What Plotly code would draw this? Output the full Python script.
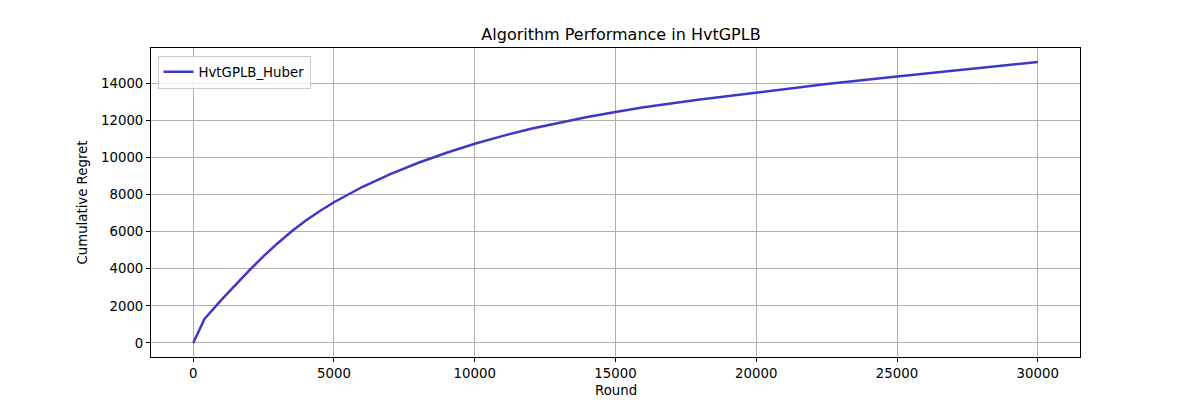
import plotly.graph_objects as go

rounds = [0, 400, 1000, 1500, 2000, 2500, 3000, 3500, 4000, 4500, 5000, 6000, 7000, 8000,
          9000, 10000, 11000, 12000, 13000, 14000, 15000, 16000, 18000, 20000, 22500, 25000,
          27500, 30000]
regret = [0, 1300, 2320, 3140, 3930, 4680, 5380, 6020, 6600, 7120, 7590, 8410, 9110, 9720,
          10260, 10740, 11170, 11550, 11890, 12190, 12460, 12710, 13130, 13510, 13960, 14370,
          14765, 15150]
series_name = "HvtGPLB_Huber"
x_ticks = [0, 5000, 10000, 15000, 20000, 25000, 30000]
y_ticks = [0, 2000, 4000, 6000, 8000, 10000, 12000, 14000]

xmin, xmax = min(rounds), max(rounds)
ymin, ymax = min(regret), max(regret)
xpad = 0.05 * (xmax - xmin)
ypad = 0.05 * (ymax - ymin)

fig = go.Figure()
fig.add_trace(go.Scatter(x=rounds, y=regret, mode="lines", name=series_name,
                         line=dict(color="rgb(62,56,200)", width=2.5)))

font = "DejaVu Sans, sans-serif"
axis_common = dict(showline=True, linecolor="black", linewidth=1, mirror=True,
                   ticks="outside", ticklen=4, tickcolor="black", tickwidth=1,
                   showgrid=True, gridcolor="#b0b0b0", gridwidth=1, zeroline=False,
                   automargin=False,
                   tickfont=dict(family=font, size=13.3, color="black"))

fig.update_layout(
    width=1200, height=400,
    margin=dict(l=151, r=120, t=48, b=43),
    paper_bgcolor="white", plot_bgcolor="white",
    title=dict(text="Algorithm Performance in HvtGPLB", x=0.5175, xanchor="center",
               y=1 - 34/400, yanchor="middle",
               font=dict(family=font, size=16, color="black")),
    xaxis=dict(range=[xmin - xpad, xmax + xpad], tickvals=x_ticks,
               ticktext=[str(v) for v in x_ticks], **axis_common),
    yaxis=dict(range=[ymin - ypad, ymax + ypad], tickvals=y_ticks,
               ticktext=[str(v) for v in y_ticks], **axis_common),
    showlegend=True,
    legend=dict(x=0.007, y=0.975, xanchor="left", yanchor="top",
                bgcolor="rgba(255,255,255,0.8)", bordercolor="#cccccc", borderwidth=1,
                font=dict(family=font, size=13.3, color="black"), itemwidth=30),
    annotations=[
        dict(text="Round", xref="paper", yref="paper", x=0.5, y=-(390-357)/309,
             xanchor="center", yanchor="middle", showarrow=False,
             font=dict(family=font, size=13.3, color="black")),
        dict(text="Cumulative Regret", xref="paper", yref="paper", x=-(151-82)/929,
             y=0.5, xanchor="center", yanchor="middle", textangle=-90, showarrow=False,
             font=dict(family=font, size=13.3, color="black")),
    ],
)

fig.write_html("out.html")
